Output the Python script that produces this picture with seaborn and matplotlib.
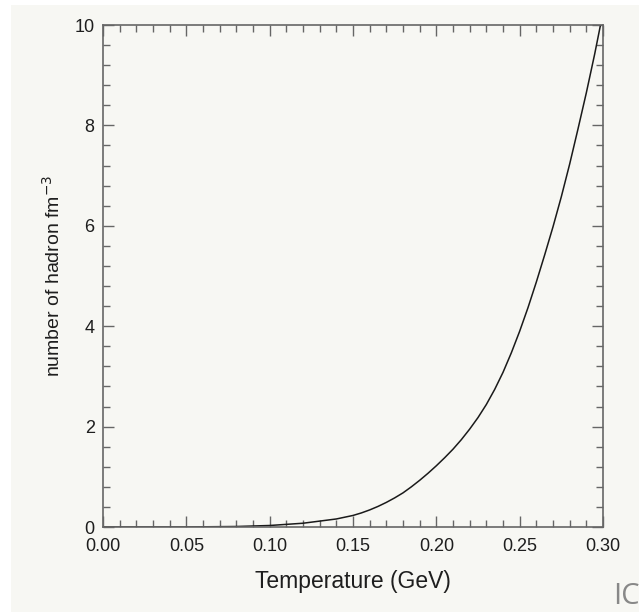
import matplotlib
matplotlib.use("Agg")
import matplotlib.pyplot as plt
from matplotlib.ticker import MultipleLocator, FormatStrFormatter
from matplotlib.patches import Rectangle
import pandas as pd
import seaborn as sns

# values
temperature = [0.00, 0.05, 0.08, 0.10, 0.12, 0.14, 0.15, 0.155, 0.16, 0.165, 0.17,
               0.175, 0.18, 0.185, 0.19, 0.195, 0.20, 0.205, 0.21, 0.215, 0.22,
               0.225, 0.23, 0.235, 0.24, 0.245, 0.25, 0.255, 0.26, 0.265, 0.27,
               0.275, 0.28, 0.285, 0.29, 0.295, 0.30]
density = [0.0, 0.001, 0.01, 0.03, 0.075, 0.16, 0.23, 0.28, 0.34, 0.41, 0.49,
           0.58, 0.68, 0.80, 0.93, 1.07, 1.22, 1.38, 1.55, 1.74, 1.95,
           2.18, 2.44, 2.74, 3.08, 3.47, 3.90, 4.37, 4.88, 5.42, 5.98,
           6.58, 7.23, 7.93, 8.65, 9.42, 10.25]

x_ticks = [0.00, 0.05, 0.10, 0.15, 0.20, 0.25, 0.30]
y_ticks = [0, 2, 4, 6, 8, 10]

sns.set_style("ticks")
plt.rcParams['font.family'] = ['Liberation Sans', 'DejaVu Sans']

bg = '#f7f7f3'
spine_col = '#666666'
text_col = '#1e1e1e'

fig = plt.figure(figsize=(6.39, 6.12), dpi=100, facecolor='white')
# off-white page area (thin white strip at top and left)
fig.patches.append(Rectangle((11 / 639, 0), 1, (612 - 5) / 612, transform=fig.transFigure,
                             facecolor=bg, edgecolor='none', zorder=-10))

ax = fig.add_axes([103 / 639, 85 / 612, 500 / 639, 502 / 612])
ax.set_zorder(5)
ax.set_facecolor(bg)

df = pd.DataFrame({'T': temperature, 'n': density})
sns.lineplot(data=df, x='T', y='n', ax=ax, color='#1a1a1a', linewidth=1.1)

ax.set_xlim(0, 0.30)
ax.set_ylim(0, 10)
ax.set_xticks(x_ticks)
ax.set_yticks(y_ticks)
ax.xaxis.set_major_formatter(FormatStrFormatter('%.2f'))
ax.xaxis.set_minor_locator(MultipleLocator(0.01))
ax.yaxis.set_minor_locator(MultipleLocator(0.4))

for s in ax.spines.values():
    s.set_visible(True)
    s.set_color(spine_col)
    s.set_linewidth(1.2)

ax.tick_params(which='both', direction='in', top=True, right=True,
               color=spine_col, width=1.0, labelcolor=text_col, labelsize=13)
ax.tick_params(which='major', length=8)
ax.tick_params(which='minor', length=5)
ax.tick_params(axis='x', which='major', pad=8)
ax.tick_params(axis='y', which='major', pad=6)

ax.set_xlabel('Temperature (GeV)', fontsize=16.5, color=text_col, labelpad=11)
ax.set_ylabel('number of hadron fm$^{-3}$', fontsize=14, color=text_col, labelpad=8)

fig.text(613 / 639, (612 - 597) / 612, 'IC', fontsize=21, color='#888888',
         family=['Open Sans', 'DejaVu Sans'], va='center', ha='left', zorder=6)

fig.savefig('out.png', dpi=100, facecolor=fig.get_facecolor())
